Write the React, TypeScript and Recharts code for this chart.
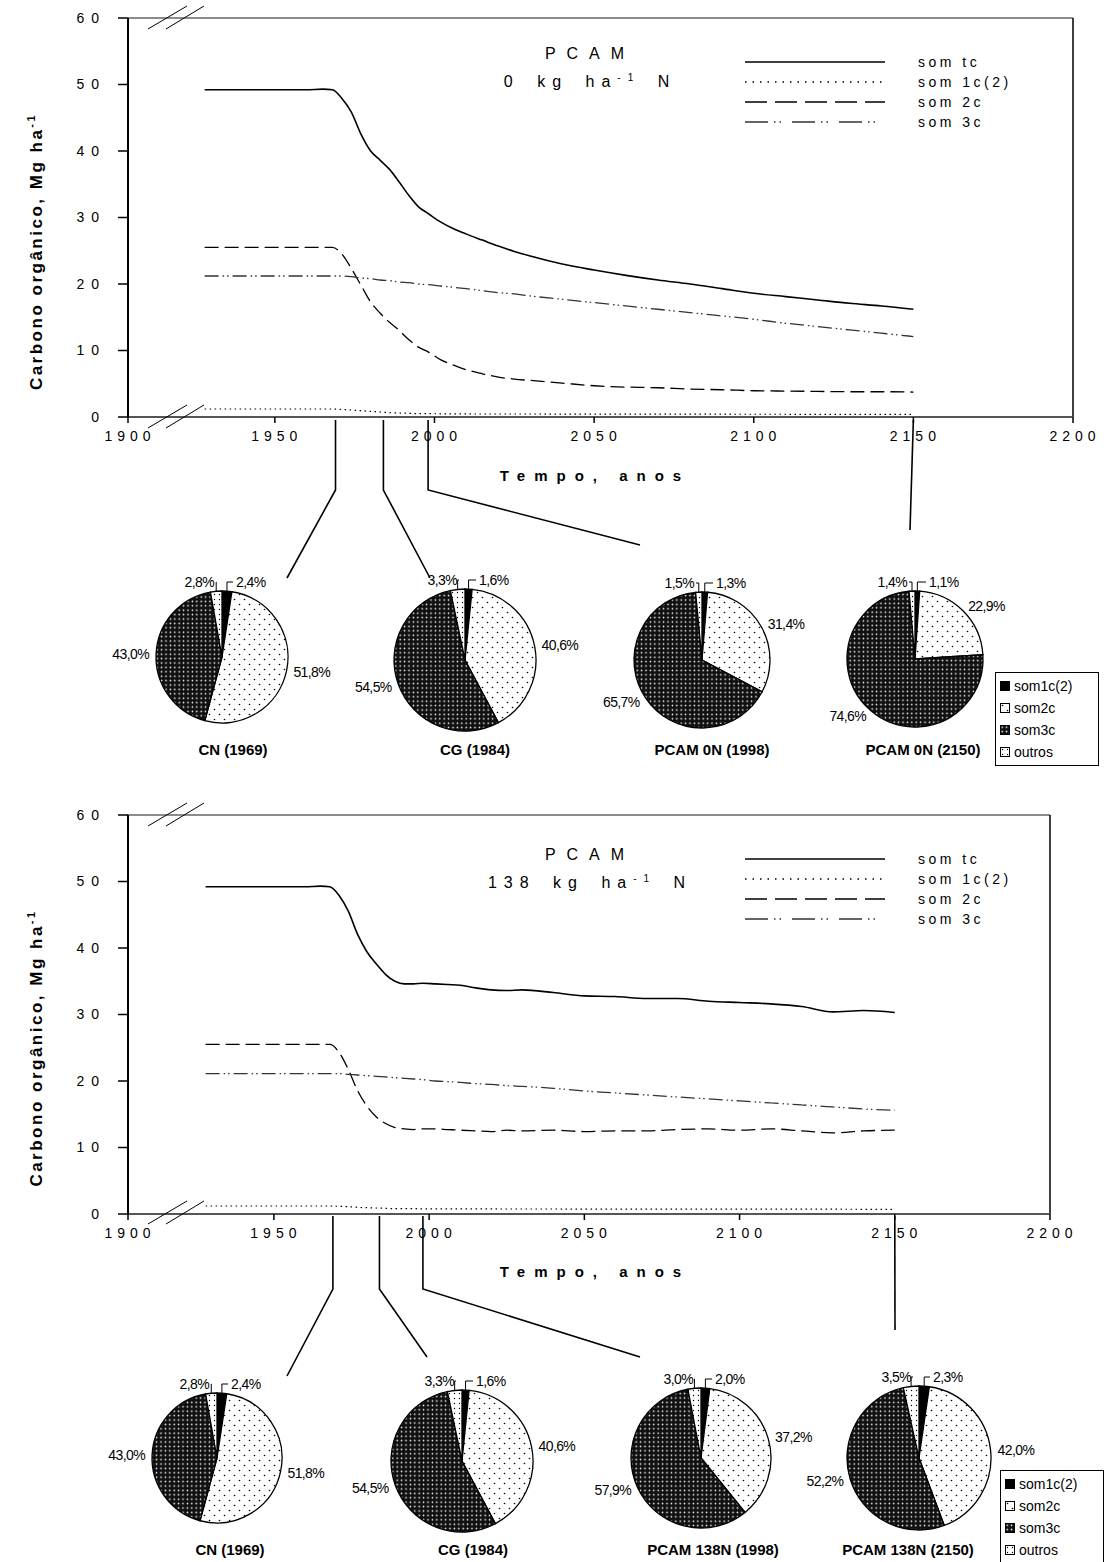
import React from "react"
import { LineChart, Line, XAxis, YAxis, ReferenceLine, Legend, PieChart, Pie, Cell } from "recharts"

// simulation years (x axis is broken between 1900 and ~1925)
const years = [
  1928, 1935, 1945, 1955, 1960, 1965, 1968, 1971, 1974, 1977, 1980, 1983, 1986, 1989, 1992, 1995, 1998, 2002,
  2006, 2010, 2015, 2020, 2025, 2030, 2040, 2050, 2060, 2070, 2080, 2090, 2100, 2110, 2120, 2130, 2140, 2150,
]

// PCAM 0 kg/ha N
const somTc0 = [
  49.2, 49.2, 49.2, 49.2, 49.2, 49.3, 49.2, 47.9, 45.8, 42.5, 40.0, 38.6, 37.2, 35.3, 33.3, 31.6, 30.6, 29.3,
  28.3, 27.5, 26.6, 25.7, 24.9, 24.2, 23.0, 22.1, 21.3, 20.6, 20.0, 19.3, 18.6, 18.1, 17.6, 17.1, 16.7, 16.2,
]
const som1c0 = [
  1.2, 1.2, 1.2, 1.2, 1.2, 1.2, 1.2, 1.15, 1.05, 0.95, 0.85, 0.75, 0.65, 0.6, 0.55, 0.5, 0.5, 0.48,
  0.47, 0.46, 0.45, 0.45, 0.45, 0.45, 0.44, 0.44, 0.43, 0.43, 0.42, 0.42, 0.41, 0.41, 0.4, 0.4, 0.4, 0.4,
]
const som2c0 = [
  25.5, 25.5, 25.5, 25.5, 25.5, 25.5, 25.5, 24.5, 22.3, 19.8, 17.3, 15.6, 14.2, 13.0, 11.6, 10.5, 9.8, 8.6,
  7.8, 7.1, 6.5, 6.0, 5.7, 5.5, 5.1, 4.7, 4.5, 4.4, 4.2, 4.1, 3.95, 3.9, 3.85, 3.8, 3.8, 3.75,
]
const som3c0 = [
  21.2, 21.2, 21.2, 21.2, 21.2, 21.2, 21.2, 21.2, 21.1, 20.9, 20.8, 20.6, 20.5, 20.3, 20.2, 20.0, 19.9, 19.7,
  19.5, 19.3, 19.0, 18.7, 18.5, 18.2, 17.7, 17.2, 16.7, 16.2, 15.7, 15.2, 14.7, 14.1, 13.6, 13.1, 12.6, 12.1,
]

// PCAM 138 kg/ha N
const somTc138 = [
  49.2, 49.2, 49.2, 49.2, 49.2, 49.3, 49.2, 47.9, 45.5, 42.0, 39.4, 37.6, 36.0, 35.0, 34.6, 34.6, 34.7, 34.6,
  34.5, 34.4, 34.0, 33.7, 33.6, 33.7, 33.3, 32.8, 32.7, 32.4, 32.4, 32.0, 31.8, 31.6, 31.2, 30.4, 30.6, 30.3,
]
const som1c138 = [
  1.2, 1.2, 1.2, 1.2, 1.2, 1.2, 1.2, 1.15, 1.1, 1.0, 0.95, 0.9, 0.85, 0.8, 0.8, 0.8, 0.78, 0.78,
  0.77, 0.77, 0.76, 0.76, 0.75, 0.75, 0.75, 0.74, 0.74, 0.74, 0.73, 0.73, 0.73, 0.72, 0.72, 0.72, 0.71, 0.71,
]
const som2c138 = [
  25.5, 25.5, 25.5, 25.5, 25.5, 25.5, 25.5, 24.3, 21.7, 18.5, 16.2, 14.6, 13.6, 13.0, 12.8, 12.7, 12.8, 12.8,
  12.7, 12.6, 12.5, 12.4, 12.6, 12.5, 12.6, 12.4, 12.5, 12.5, 12.7, 12.8, 12.6, 12.8, 12.5, 12.2, 12.5, 12.6,
]
const som3c138 = [
  21.1, 21.1, 21.1, 21.1, 21.1, 21.1, 21.1, 21.1, 21.0, 20.9, 20.8, 20.7, 20.6, 20.5, 20.4, 20.3, 20.2, 20.0,
  19.9, 19.8, 19.6, 19.5, 19.3, 19.2, 18.9, 18.5, 18.2, 17.9, 17.6, 17.3, 17.0, 16.7, 16.4, 16.1, 15.8, 15.6,
]

const seriesKeys = ["somTc", "som1c", "som2c", "som3c"]
const seriesNames = ["som tc", "som 1c(2)", "som 2c", "som 3c"]
const seriesDash = ["", "1.5 3.5", "14 6", "14 4 1.5 3 1.5 4"]
const legendDash = ["", "1.5 6", "22 8", "23 6 1.5 4 1.5 11"]
const seriesWidth = [1.6, 1.2, 1.3, 1.3]
const seriesColor = ["#000", "#000", "#000", "#333"]

const yTicks = [0, 10, 20, 30, 40, 50, 60]
const xTicks = [1950, 2000, 2050, 2100, 2150, 2200]
const axisStartLabel = 1900

// pies: share (%) of each pool, clockwise from 12 o'clock
const pieComponents = ["som1c(2)", "som2c", "som3c", "outros"]
const pieFills = ["#000", "url(#pat2c)", "url(#pat3c)", "url(#patOutros)"]
const pieTitles0 = ["CN (1969)", "CG (1984)", "PCAM 0N (1998)", "PCAM 0N (2150)"]
const pieTitles138 = ["CN (1969)", "CG (1984)", "PCAM 138N (1998)", "PCAM 138N (2150)"]
const pieShares0 = [
  [2.4, 51.8, 43.0, 2.8],
  [1.6, 40.6, 54.5, 3.3],
  [1.3, 31.4, 65.7, 1.5],
  [1.1, 22.9, 74.6, 1.4],
]
const pieShares138 = [
  [2.4, 51.8, 43.0, 2.8],
  [1.6, 40.6, 54.5, 3.3],
  [2.0, 37.2, 57.9, 3.0],
  [2.3, 42.0, 52.2, 3.5],
]
const pieYears = [1969, 1984, 1998, 2150]

const FONT = '"Liberation Sans", Arial, sans-serif'
const RAD = Math.PI / 180

const buildRows = (tc: number[], c1: number[], c2: number[], c3: number[]) =>
  years.map((year, i) => ({ year, somTc: tc[i], som1c: c1[i], som2c: c2[i], som3c: c3[i] }))

const rows0 = buildRows(somTc0, som1c0, som2c0, som3c0)
const rows138 = buildRows(somTc138, som1c138, som2c138, som3c138)

function LineLegend() {
  return (
    <div>
      {seriesNames.map((name, i) => (
        <div key={name} style={{ display: "flex", alignItems: "center", height: 20 }}>
          <svg width={140} height={10}>
            <line x1={0} y1={5} x2={140} y2={5} stroke={seriesColor[i]} strokeWidth={1.3} strokeDasharray={legendDash[i]} />
          </svg>
          <span style={{ marginLeft: 33, fontSize: 14, letterSpacing: 3.5, color: "#000" }}>{name}</span>
        </div>
      ))}
    </div>
  )
}

function CarbonChart({ top, right, origin, rows }: any) {
  return (
    <div style={{ position: "absolute", left: 0, top }}>
      <LineChart width={1107} height={500} data={rows} margin={{ top: 18, right: 1107 - right, left: 0, bottom: 43 }}>
        <XAxis
          dataKey="year"
          type="number"
          domain={[origin, 2200]}
          ticks={[origin, ...xTicks]}
          interval={0}
          height={40}
          tickSize={6}
          tickMargin={8}
          axisLine={{ stroke: "#555", strokeWidth: 2 }}
          tickLine={{ stroke: "#000", strokeWidth: 1.5 }}
          tick={{ fill: "#000", fontSize: 14, letterSpacing: 5, dx: 2 }}
          tickFormatter={(v: number) => (v === origin ? String(axisStartLabel) : String(v))}
        />
        <YAxis
          type="number"
          domain={[0, 60]}
          ticks={yTicks}
          interval={0}
          width={128}
          tickSize={10}
          tickMargin={12}
          axisLine={{ stroke: "#000", strokeWidth: 2 }}
          tickLine={{ stroke: "#000", strokeWidth: 1.5 }}
          tick={{ fill: "#000", fontSize: 14, letterSpacing: 7 }}
        />
        <ReferenceLine y={60} stroke="#666" strokeWidth={1.5} />
        <ReferenceLine x={2200} stroke="#000" strokeWidth={1.5} />
        <Legend
          layout="horizontal"
          verticalAlign="middle"
          align="center"
          content={<LineLegend />}
          wrapperStyle={{ left: 745, top: 52, width: 340 }}
        />
        {seriesKeys.map((k, i) => (
          <Line
            key={k}
            type="monotone"
            dataKey={k}
            name={seriesNames[i]}
            stroke={seriesColor[i]}
            strokeWidth={seriesWidth[i]}
            strokeDasharray={seriesDash[i]}
            dot={false}
            activeDot={false}
            isAnimationActive={false}
          />
        ))}
      </LineChart>
    </div>
  )
}

const fmtPct = (v: number) => v.toFixed(1).replace(".", ",") + "%"

const renderPieLabel = (p: any) => {
  const { cx, cy, midAngle, outerRadius, value, index } = p
  const ang = -midAngle * RAD
  const txt = fmtPct(value)
  if (index === 0 || index === 3) {
    const ly = cy - outerRadius - 9
    const tx = index === 0 ? cx + 14 : cx - 8
    const px = cx + outerRadius * Math.cos(ang)
    const py = cy + outerRadius * Math.sin(ang)
    const lx = index === 0 ? tx - 3 : tx + 2
    return (
      <g key={`lbl-${index}`}>
        <polyline points={`${px},${py} ${px},${ly} ${lx},${ly}`} fill="none" stroke="#000" strokeWidth={1} />
        <text x={tx} y={ly} textAnchor={index === 0 ? "start" : "end"} dominantBaseline="central" fontSize={14} letterSpacing={-0.6} fill="#000">
          {txt}
        </text>
      </g>
    )
  }
  const r2 = outerRadius + 7
  const x = cx + r2 * Math.cos(ang)
  const y = cy + r2 * Math.sin(ang)
  return (
    <text key={`lbl-${index}`} x={x} y={y} textAnchor={x > cx ? "start" : "end"} dominantBaseline="central" fontSize={14} letterSpacing={-0.6} fill="#000">
      {txt}
    </text>
  )
}

function SharePie({ cx, cy, r, shares, title, titleY, titleX }: any) {
  const data = pieComponents.map((name, i) => ({ name, value: shares[i] }))
  const W = 300
  const H = 220
  return (
    <>
      <div style={{ position: "absolute", left: cx - W / 2, top: cy - H / 2 }}>
        <PieChart width={W} height={H}>
          <Pie
            data={data}
            dataKey="value"
            cx={W / 2}
            cy={H / 2}
            outerRadius={r}
            startAngle={90}
            endAngle={-270}
            stroke="#000"
            strokeWidth={1.3}
            label={renderPieLabel}
            labelLine={false}
            isAnimationActive={false}
          >
            {data.map((d, i) => (
              <Cell key={d.name} fill={pieFills[i]} />
            ))}
          </Pie>
        </PieChart>
      </div>
      <div
        style={{
          position: "absolute",
          left: titleX - 110,
          top: titleY - 10,
          width: 220,
          textAlign: "center",
          fontWeight: "bold",
          fontSize: 15,
          lineHeight: "20px",
        }}
      >
        {title}
      </div>
    </>
  )
}

function PieLegend({ left, top }: any) {
  return (
    <div style={{ position: "absolute", left, top, width: 104, height: 94, border: "1px solid #000", background: "#fff", paddingTop: 2, boxSizing: "border-box" }}>
      {pieComponents.map((name, i) => (
        <div key={name} style={{ display: "flex", alignItems: "center", height: 22, paddingLeft: 4, fontSize: 14 }}>
          <svg width={11} height={11} style={{ marginRight: 3 }}>
            <rect x={0.5} y={0.5} width={9} height={9} fill={pieFills[i]} stroke="#000" strokeWidth={1} />
          </svg>
          {name}
        </div>
      ))}
    </div>
  )
}

function ChartTitle({ top, dose }: any) {
  return (
    <>
      <div style={{ position: "absolute", left: 390, top: top - 10, width: 400, textAlign: "center", fontSize: 16, letterSpacing: 11, lineHeight: "20px" }}>
        PCAM
      </div>
      <div style={{ position: "absolute", left: 390, top: top + 14, width: 400, textAlign: "center", fontSize: 16, letterSpacing: 7, wordSpacing: 6, lineHeight: "20px" }}>
        {dose} kg ha<sup style={{ fontSize: 10 }}>-1</sup> N
      </div>
    </>
  )
}

const xOf = (year: number, right: number, origin: number) => 128 + ((year - origin) * (right - 128)) / (2200 - origin)

function Decorations() {
  const charts = [
    { top: 18, bottom: 417, right: 1073, origin: 1904, ends: [[287, 578], [430, 578], [640, 545], [910, 530]], bend: 490 },
    { top: 815, bottom: 1213, right: 1050, origin: 1903, ends: [[287, 1376], [427, 1357], [640, 1357], [895, 1330]], bend: 1289 },
  ]
  return (
    <svg width={1107} height={1562} style={{ position: "absolute", left: 0, top: 0, pointerEvents: "none" }}>
      {charts.map((c, ci) => {
        const mid = (c.top + c.bottom) / 2 + 34
        return (
          <g key={ci}>
            {[c.top, c.bottom].map((y) => (
              <g key={y} stroke="#000" strokeWidth={1}>
                <line x1={148} y1={y + 11} x2={187} y2={y - 12} />
                <line x1={166} y1={y + 11} x2={204} y2={y - 12} />
              </g>
            ))}
            {pieYears.map((yr, i) => {
              const x = xOf(yr, c.right, c.origin)
              const [ex, ey] = c.ends[i]
              const pts = i === 3 ? `${x},${c.bottom + 3} ${ex},${ey}` : `${x},${c.bottom + 3} ${x},${c.bend} ${ex},${ey}`
              return <polyline key={yr} points={pts} fill="none" stroke="#000" strokeWidth={1.6} />
            })}
            <text x={42} y={mid} transform={`rotate(-90 42 ${mid})`} textAnchor="middle" fontWeight="bold" fontSize={17} letterSpacing={2.5} fill="#000">
              Carbono orgânico, Mg ha
              <tspan dy={-7} fontSize={11}>
                -1
              </tspan>
            </text>
            <text x={595} y={c.bottom + 58} textAnchor="middle" dominantBaseline="central" fontWeight="bold" fontSize={15} letterSpacing={9} fill="#000">
              Tempo, anos
            </text>
          </g>
        )
      })}
    </svg>
  )
}

export default function App() {
  const topPies = [
    { cx: 217, cy: 652, r: 66, tx: 233 },
    { cx: 460, cy: 655, r: 71, tx: 475 },
    { cx: 697, cy: 655, r: 68, tx: 712 },
    { cx: 910, cy: 654, r: 68, tx: 923 },
  ]
  const bottomPies = [
    { cx: 212, cy: 1453, r: 65, tx: 230 },
    { cx: 457, cy: 1456, r: 71, tx: 473 },
    { cx: 696, cy: 1453, r: 70, tx: 713 },
    { cx: 914, cy: 1453, r: 72, tx: 908 },
  ]
  return (
    <div style={{ position: "absolute", left: 0, top: 0, width: 1107, height: 1562, background: "#fff", fontFamily: FONT, color: "#000", overflow: "hidden" }}>
      <svg width={0} height={0} style={{ position: "absolute" }}>
        <defs>
          <pattern id="pat2c" width={10} height={10} patternUnits="userSpaceOnUse">
            <rect width={10} height={10} fill="#fff" />
            <circle cx={2.5} cy={2.5} r={0.8} fill="#000" />
            <circle cx={7.5} cy={7.5} r={0.8} fill="#000" />
          </pattern>
          <pattern id="pat3c" width={4.4} height={4.4} patternUnits="userSpaceOnUse">
            <rect width={4.4} height={4.4} fill="#111" />
            <circle cx={2.2} cy={2.2} r={0.8} fill="#fff" />
          </pattern>
          <pattern id="patOutros" width={5} height={5} patternUnits="userSpaceOnUse">
            <rect width={5} height={5} fill="#fff" />
            <circle cx={2.5} cy={2.5} r={0.7} fill="#000" />
          </pattern>
        </defs>
      </svg>

      <CarbonChart top={0} right={1073} origin={1904} rows={rows0} />
      <CarbonChart top={797} right={1050} origin={1903} rows={rows138} />
      <ChartTitle top={54} dose="0" />
      <ChartTitle top={855} dose="138" />
      <Decorations />

      {topPies.map((p, i) => (
        <SharePie key={`t${i}`} cx={p.cx} cy={p.cy} r={p.r} shares={pieShares0[i]} title={pieTitles0[i]} titleX={p.tx} titleY={750} />
      ))}
      {bottomPies.map((p, i) => (
        <SharePie key={`b${i}`} cx={p.cx} cy={p.cy} r={p.r} shares={pieShares138[i]} title={pieTitles138[i]} titleX={p.tx} titleY={1550} />
      ))}
      <PieLegend left={995} top={672} />
      <PieLegend left={1000} top={1470} />
    </div>
  )
}
